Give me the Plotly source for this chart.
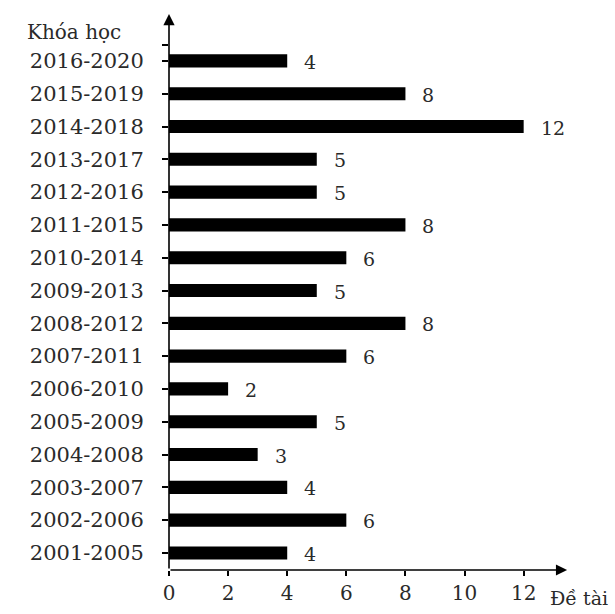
import plotly.graph_objects as go

courses = ["2001-2005", "2002-2006", "2003-2007", "2004-2008", "2005-2009",
           "2006-2010", "2007-2011", "2008-2012", "2009-2013", "2010-2014",
           "2011-2015", "2012-2016", "2013-2017", "2014-2018", "2015-2019",
           "2016-2020"]
topics = [4, 6, 4, 3, 5, 2, 6, 8, 5, 6, 8, 5, 5, 12, 8, 4]
x_ticks = [0, 2, 4, 6, 8, 10, 12]

FONT = "DejaVu Serif"
TXT = "#2a2a2a"
pos = list(range(len(courses)))

fig = go.Figure()
fig.add_trace(go.Bar(
    x=topics, y=pos, orientation="h",
    marker=dict(color="black", line=dict(width=0)),
    width=0.4, showlegend=False, hoverinfo="skip",
))

ann = []
for p, v in zip(pos, topics):
    ann.append(dict(x=v, y=p, text=str(v), xref="x", yref="y", showarrow=False,
                    xanchor="left", yanchor="middle", xshift=15, yshift=-1,
                    font=dict(family=FONT, size=19, color=TXT)))
# axis arrows
ann.append(dict(x=0, y=16.43, ax=0, ay=-0.52, xref="x", yref="y", axref="x", ayref="y",
                showarrow=True, arrowhead=2, arrowsize=1.4, arrowwidth=1.6,
                arrowcolor="black", text=""))
ann.append(dict(x=13.47, y=-0.52, ax=0, ay=-0.52, xref="x", yref="y", axref="x", ayref="y",
                showarrow=True, arrowhead=2, arrowsize=1.4, arrowwidth=1.6,
                arrowcolor="black", text=""))
ann.append(dict(x=25, y=32, xref="paper", yref="paper", text="Khóa học", showarrow=False,
                font=dict(family=FONT, size=20, color=TXT)))
ann.append(dict(x=548, y=598, xref="paper", yref="paper", text="Đề tài", showarrow=False,
                font=dict(family=FONT, size=19, color=TXT)))

# convert pixel positions for the two axis titles into paper coords
W, H = 615, 614
L, R, T, B = 169, 47, 14, 44
pw, ph = W - L - R, H - T - B
for a in ann[-2:]:
    px, py = a["x"], a["y"]
    a["x"] = (px - L) / pw
    a["y"] = 1 - (py - T) / ph
    a["xanchor"] = "left"
    a["yanchor"] = "middle"

fig.update_layout(
    width=W, height=H,
    margin=dict(l=L, r=R, t=T, b=B, pad=0, autoexpand=False),
    plot_bgcolor="white", paper_bgcolor="white",
    annotations=ann,
    xaxis=dict(range=[0, 13.5], tickvals=x_ticks, ticktext=[str(t) for t in x_ticks],
               showgrid=False, zeroline=False, showline=False, automargin=False,
               ticks="outside", ticklen=5, tickwidth=1.5, tickcolor="black",
               tickfont=dict(family=FONT, size=20, color=TXT),
               ticklabelstandoff=0),
    yaxis=dict(range=[-0.52, 16.43], tickvals=pos + [15.5], ticktext=courses + [""],
               showgrid=False, zeroline=False, showline=False, automargin=False,
               ticks="outside", ticklen=6, tickwidth=1.5, tickcolor="black",
               tickfont=dict(family=FONT, size=21, color=TXT),
               ticklabelstandoff=14),
    bargap=0.6,
)

fig.write_html("out.html", config={"displayModeBar": False},
               post_script="document.body.style.margin='0';document.body.style.overflow='hidden';")
